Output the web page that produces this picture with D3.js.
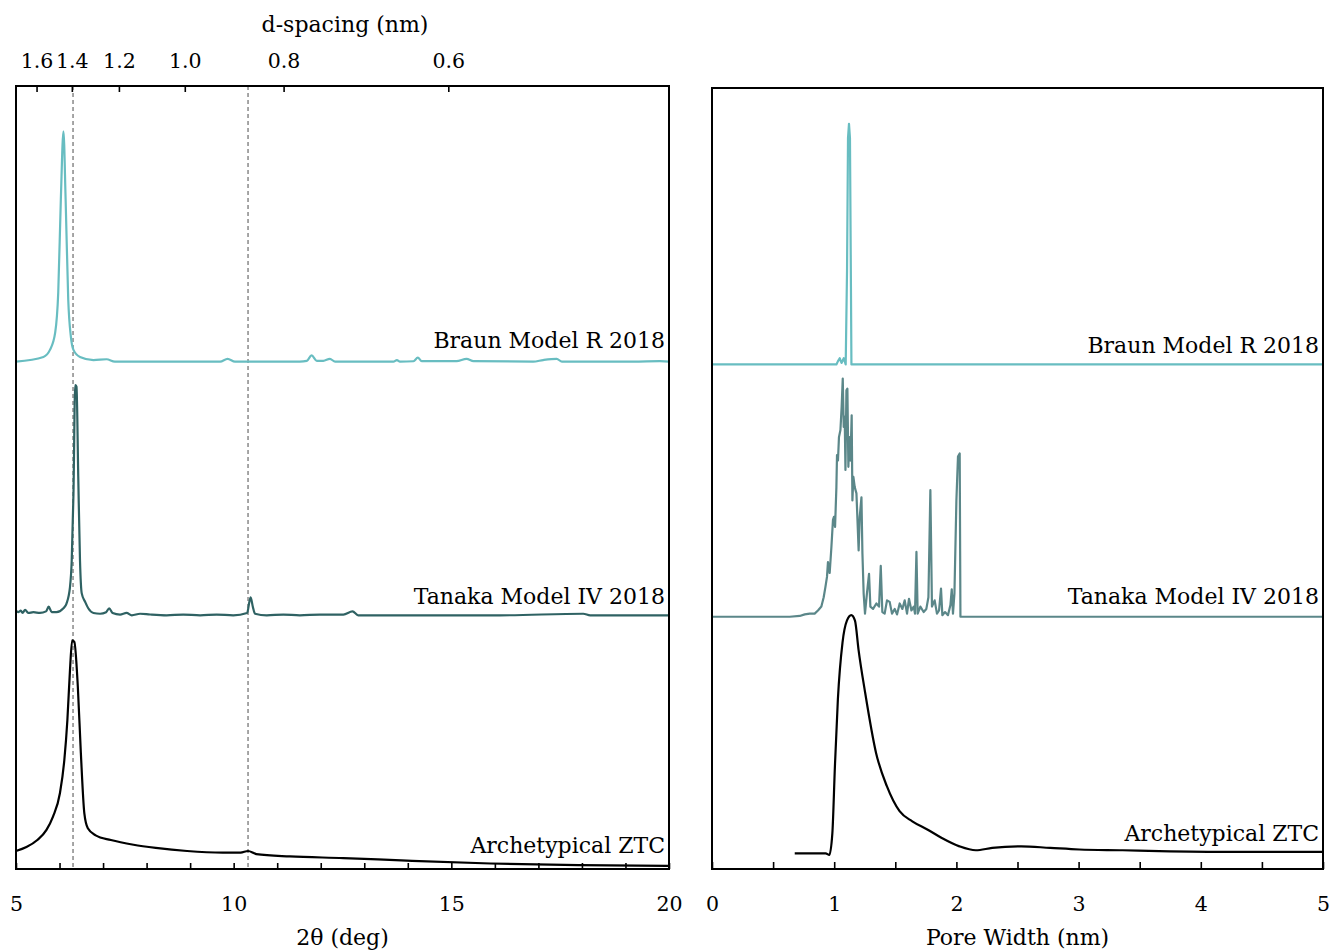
<!DOCTYPE html>
<html>
<head>
<meta charset="utf-8">
<script src="https://cdn.jsdelivr.net/npm/d3@7"></script>
<style>
  body { margin: 0; background: #fff; }
  svg text { font-family: "DejaVu Serif", serif; font-size: 22px; fill: #000; }
  svg .tick text { font-size: 20.5px; }
</style>
</head>
<body>
<div id="chart"></div>
<script>
// series, bottom to top
var seriesNames = ["Archetypical ZTC", "Tanaka Model IV 2018", "Braun Model R 2018"];
var xrdColors = ["#000000", "#2f6263", "#68bdc1"];
var poreColors = ["#000000", "#5b8789", "#68bdc1"];
// stacking offsets (a.u.)
var xrdOffsets = [0, 3.24, 6.48];
var poreOffsets = [0, 3.23, 6.46];

// XRD: [2theta (deg), intensity above own baseline (a.u.)]
var xrdZtc = [[5.00,0.23],[5.24,0.28],[5.49,0.37],[5.70,0.50],[5.85,0.67],[6.01,0.97],[6.11,1.39],[6.18,1.90],
  [6.24,2.54],[6.29,2.92],[6.34,2.90],[6.42,2.33],[6.49,1.48],[6.57,0.71],[6.65,0.52],[6.83,0.43],[7.18,0.37],
  [7.70,0.31],[8.21,0.27],[8.93,0.23],[9.75,0.21],[10.16,0.21],[10.33,0.23],[10.52,0.19],[11.29,0.16],
  [12.52,0.14],[13.85,0.11],[15.90,0.07],[17.95,0.05],[20.00,0.04]];
var xrdTanaka = [[5.00,0.06],[5.05,0.04],[5.11,0.06],[5.15,0.03],[5.21,0.07],[5.28,0.03],[5.40,0.04],[5.55,0.03],
  [5.69,0.05],[5.75,0.11],[5.82,0.04],[5.93,0.04],[6.09,0.09],[6.16,0.15],[6.24,0.36],[6.28,0.70],[6.32,1.55],
  [6.36,2.94],[6.39,2.92],[6.43,1.77],[6.47,0.70],[6.51,0.28],[6.59,0.17],[6.66,0.09],[6.78,0.03],[6.93,0.02],
  [7.07,0.04],[7.14,0.09],[7.22,0.03],[7.39,0.01],[7.54,0.03],[7.66,0],[7.85,0.02],[8.08,0.01],[8.46,0],
  [8.84,0.01],[9.23,0],[9.61,0.01],[9.99,0],[10.31,0.03],[10.36,0.17],[10.39,0.23],[10.44,0.11],[10.49,0.02],
  [10.76,0],[11.14,0.01],[11.52,0],[11.98,0.01],[12.52,0.01],[12.73,0.05],[12.86,0],[14.59,0],[16.12,0],
  [18.03,0.02],[18.19,0],[20.00,0]];
var xrdBraun = [[5.00,0],[5.63,0.06],[5.78,0.15],[5.90,0.37],[5.97,0.88],[6.03,2.07],[6.09,2.94],[6.14,2.07],
  [6.20,0.79],[6.26,0.32],[6.32,0.15],[6.47,0.06],[6.78,0.02],[7.08,0.03],[7.27,0],[9.69,0],[9.86,0.035],
  [10.03,0],[11.52,0],[11.68,0.01],[11.79,0.08],[11.91,0.01],[12.06,0.01],[12.21,0.035],[12.33,0],[13.67,0],
  [13.75,0.02],[13.82,0],[14.13,0.005],[14.23,0.05],[14.32,0.005],[15.12,0.005],[15.35,0.035],[15.51,0.005],
  [16.88,0],[17.11,0.02],[17.42,0.035],[17.54,0],[19.18,0],[19.79,0.005],[20.00,0]];

// pore size distribution: [pore width (nm), value above own baseline (a.u.)]
var poreZtc = [[0.677,0.20],[0.93,0.20],[0.96,0.18],[0.985,0.46],[1.006,1.32],[1.03,2.17],[1.068,2.90],
  [1.104,3.18],[1.14,3.25],[1.17,3.18],[1.199,2.81],[1.253,2.26],[1.342,1.49],[1.431,1.06],[1.535,0.74],
  [1.639,0.61],[1.758,0.51],[1.877,0.40],[2.025,0.29],[2.159,0.24],[2.293,0.27],[2.53,0.29],[2.768,0.27],
  [3.006,0.25],[3.36,0.24],[3.66,0.23],[4.25,0.22],[5.0,0.22]];
var poreTanaka = [[0,0],[0.636,0],[0.718,0.01],[0.759,0.03],[0.800,0.04],[0.840,0.04],[0.867,0.08],[0.895,0.13],
  [0.914,0.25],[0.928,0.38],[0.941,0.51],[0.949,0.70],[0.963,0.56],[0.977,0.89],[0.990,1.24],[0.998,1.28],
  [1.007,1.15],[1.018,1.66],[1.023,2.07],[1.031,2.00],[1.039,2.30],[1.051,2.39],[1.061,2.69],[1.070,3.05],
  [1.078,2.43],[1.086,2.56],[1.092,1.88],[1.100,2.90],[1.108,2.92],[1.116,1.92],[1.124,2.30],[1.133,2.00],
  [1.143,2.58],[1.149,1.49],[1.157,1.79],[1.168,1.66],[1.182,1.58],[1.200,0.85],[1.209,1.28],[1.223,1.53],
  [1.231,0.81],[1.241,0.30],[1.252,0.04],[1.268,0.30],[1.285,0.55],[1.296,0.13],[1.318,0.10],[1.345,0.17],
  [1.367,0.13],[1.381,0.65],[1.394,0.06],[1.413,0.04],[1.432,0.21],[1.454,0.19],[1.473,0.04],[1.495,0.10],
  [1.514,0.03],[1.536,0.17],[1.558,0.10],[1.577,0.21],[1.596,0.04],[1.612,0.23],[1.632,0.08],[1.651,0.13],
  [1.661,0.04],[1.673,0.83],[1.683,0.04],[1.705,0.13],[1.732,0.06],[1.754,0.10],[1.771,0.25],[1.787,1.62],
  [1.800,0.13],[1.822,0.21],[1.841,0.04],[1.858,0.08],[1.874,0.36],[1.885,0.02],[1.907,0.06],[1.931,0.02],
  [1.951,0.15],[1.962,0.35],[1.972,0.04],[1.984,0.30],[2.000,1.49],[2.013,2.05],[2.027,2.09],[2.033,0],[5.0,0]];
var poreBraun = [[0,0],[1.018,0],[1.03,0.04],[1.045,0.08],[1.06,0.02],[1.078,0.08],[1.094,0],[1.105,1.2],
  [1.113,2.9],[1.121,3.08],[1.129,2.9],[1.137,1.0],[1.141,0],[5,0]];

// ticks / markers
var dSpacingTicks = [1.6, 1.4, 1.2, 1.0, 0.8, 0.6];
var thetaTicks = d3.range(5, 21, 1);
var thetaLabels = [5, 10, 15, 20];
var poreTicks = d3.range(0, 5.01, 0.5);
var poreLabels = [0, 1, 2, 3, 4, 5];
var refLines = [6.31, 10.33];
// secondary axis is linear in 1/d (nm^-1), matching the 2theta span
var invDDomain = [0.573, 2.225];

var W = 1334, H = 952;
var left = { x0: 16, x1: 669, y0: 86, y1: 869 };
var right = { x0: 712, x1: 1323, y0: 88, y1: 869 };

var svg = d3.select("#chart").append("svg")
  .attr("width", W)
  .attr("height", H);

var xL = d3.scaleLinear().domain([5, 20]).range([left.x0, left.x1]);
var xD = d3.scaleLinear().domain(invDDomain).range([left.x0, left.x1]);
var yL = d3.scaleLinear().domain([0, 10]).range([left.y1, left.y0]);
var xR = d3.scaleLinear().domain([0, 5]).range([right.x0, right.x1]);
var yR = d3.scaleLinear().domain([0, 10]).range([right.y1, right.y0]);

function styleAxis(g) {
  g.select(".domain").remove();
  g.selectAll(".tick line").attr("stroke", "#000").attr("stroke-width", 1.6);
  g.selectAll(".tick text").attr("font-family", null).attr("font-size", null);
}

// ----- left panel: XRD -----
var gl = svg.append("g");

gl.selectAll("line.ref")
  .data(refLines)
  .enter().append("line")
  .attr("class", "ref")
  .attr("x1", d => xL(d)).attr("x2", d => xL(d))
  .attr("y1", left.y0).attr("y2", left.y1)
  .attr("stroke", "#777")
  .attr("stroke-width", 1.3)
  .attr("stroke-dasharray", "4,3");

var lineL = (off) => d3.line()
  .x(d => xL(d[0]))
  .y(d => yL(d[1] + off))
  .curve(d3.curveMonotoneX);

[xrdZtc, xrdTanaka, xrdBraun].forEach((s, i) => {
  gl.append("path")
    .datum(s)
    .attr("d", lineL(xrdOffsets[i]))
    .attr("fill", "none")
    .attr("stroke", xrdColors[i])
    .attr("stroke-width", 2.2)
    .attr("stroke-linejoin", "round");
});

gl.append("g")
  .attr("transform", `translate(0,${left.y1})`)
  .call(d3.axisBottom(xL).tickValues(thetaTicks).tickSize(-6).tickPadding(27)
    .tickFormat(d => thetaLabels.indexOf(d) >= 0 ? d : ""))
  .call(styleAxis);

gl.append("g")
  .attr("transform", `translate(0,${left.y0})`)
  .call(d3.axisTop(xD).tickValues(dSpacingTicks.map(d => 1 / d)).tickSize(-6).tickPadding(18)
    .tickFormat((d, i) => d3.format(".1f")(dSpacingTicks[i])))
  .call(styleAxis);

gl.append("rect")
  .attr("x", left.x0).attr("y", left.y0)
  .attr("width", left.x1 - left.x0).attr("height", left.y1 - left.y0)
  .attr("fill", "none").attr("stroke", "#000").attr("stroke-width", 2);

var xrdLabelY = [853, 604, 348];
gl.selectAll("text.series")
  .data(seriesNames)
  .enter().append("text")
  .attr("class", "series")
  .attr("x", left.x1 - 4)
  .attr("y", (d, i) => xrdLabelY[i])
  .attr("text-anchor", "end")
  .text(d => d);

gl.append("text")
  .attr("x", (left.x0 + left.x1) / 2).attr("y", 945)
  .attr("text-anchor", "middle")
  .text("2θ (deg)");

gl.append("text")
  .attr("x", 345).attr("y", 32)
  .attr("text-anchor", "middle")
  .text("d-spacing (nm)");

// ----- right panel: pore size distribution -----
var gr = svg.append("g");

var lineR = (off, curve) => d3.line()
  .x(d => xR(d[0]))
  .y(d => yR(d[1] + off))
  .curve(curve);

[poreZtc, poreTanaka, poreBraun].forEach((s, i) => {
  gr.append("path")
    .datum(s)
    .attr("d", lineR(poreOffsets[i], i === 0 ? d3.curveMonotoneX : d3.curveLinear))
    .attr("fill", "none")
    .attr("stroke", poreColors[i])
    .attr("stroke-width", 2.2)
    .attr("stroke-linejoin", "round");
});

gr.append("g")
  .attr("transform", `translate(0,${right.y1})`)
  .call(d3.axisBottom(xR).tickValues(poreTicks).tickSize(-7).tickPadding(27)
    .tickFormat(d => poreLabels.indexOf(d) >= 0 ? d : ""))
  .call(styleAxis);

gr.append("rect")
  .attr("x", right.x0).attr("y", right.y0)
  .attr("width", right.x1 - right.x0).attr("height", right.y1 - right.y0)
  .attr("fill", "none").attr("stroke", "#000").attr("stroke-width", 2);

var poreLabelY = [841, 604, 353];
gr.selectAll("text.series")
  .data(seriesNames)
  .enter().append("text")
  .attr("class", "series")
  .attr("x", right.x1 - 4)
  .attr("y", (d, i) => poreLabelY[i])
  .attr("text-anchor", "end")
  .text(d => d);

gr.append("text")
  .attr("x", (right.x0 + right.x1) / 2).attr("y", 945)
  .attr("text-anchor", "middle")
  .text("Pore Width (nm)");
</script>
</body>
</html>
